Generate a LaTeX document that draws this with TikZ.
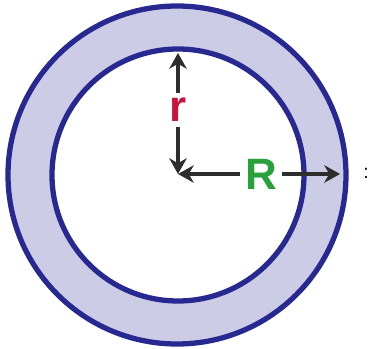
\documentclass[tikz,border=0pt]{standalone}
\usepackage{fontspec}
\setmainfont{Liberation Sans}
\usetikzlibrary{arrows.meta}
\definecolor{ringblue}{RGB}{40,40,145}
\definecolor{ringfill}{RGB}{204,204,230}
\definecolor{radred}{RGB}{200,20,60}
\definecolor{radgreen}{RGB}{40,160,60}
\definecolor{arrowgray}{RGB}{45,45,45}
\begin{document}
\begin{tikzpicture}[x=0.02cm,y=0.02cm,>={Stealth[length=9pt,width=10pt]}]
    \tikzset{
        rim/.style={draw=ringblue,line width=3pt},
        radarrow/.style={->,draw=arrowgray,line width=2.6pt},
        radlabel/.style={font=\bfseries\fontsize{25}{25}\selectfont,inner sep=2.5pt}
    }
    \useasboundingbox (0,0) rectangle (370,349);

    \fill[ringfill,even odd rule] (177,174) circle[radius=169]
        (178,174) circle[radius=126];
    \draw[rim] (177,174) circle[radius=169];
    \draw[rim] (178,174) circle[radius=126];

    \coordinate (center) at (178,175);
    \coordinate (rtip) at (178,296);
    \coordinate (Rtip) at (340,175);
    \node[radlabel,text=radred] (rlab) at (178,239) {r};
    \node[radlabel,text=radgreen] (Rlab) at (261,175) {R};
    \draw[radarrow] (rlab) -- (rtip);
    \draw[radarrow] (rlab) -- (center);
    \draw[radarrow] (Rlab) -- (Rtip);
    \draw[radarrow] (Rlab) -- (center);

    \node[font=\fontsize{11}{11}\selectfont] (colon) at (366,176) {:};
\end{tikzpicture}
\end{document}
